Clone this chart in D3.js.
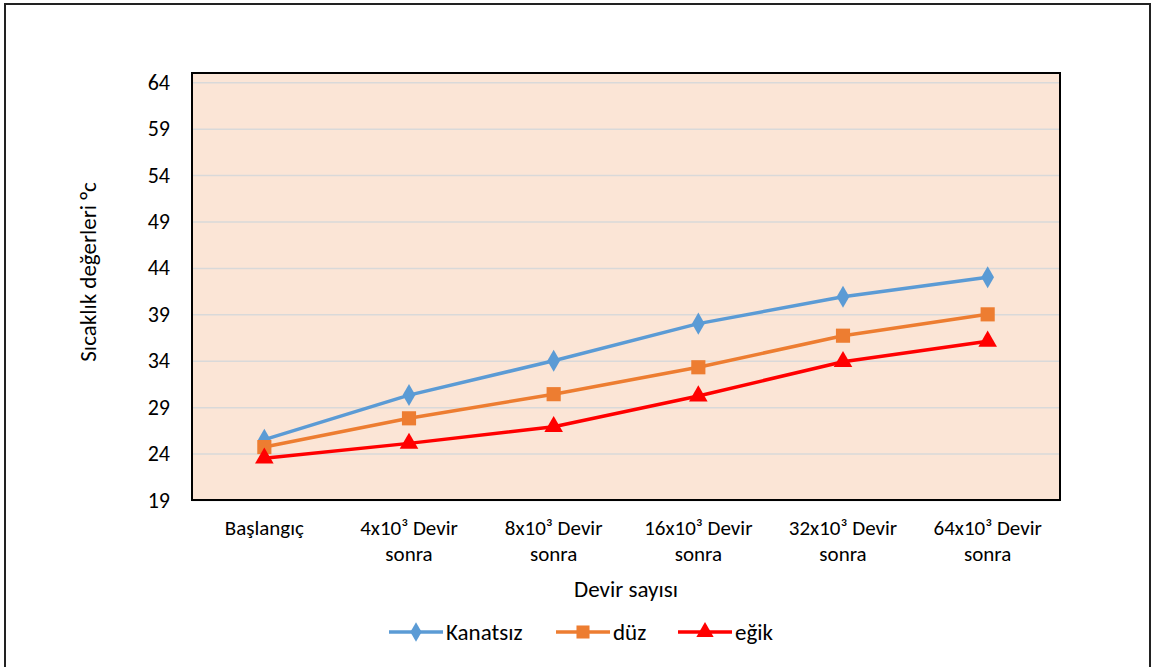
<!DOCTYPE html>
<html>
<head>
<meta charset="utf-8">
<script src="https://cdn.jsdelivr.net/npm/d3@7"></script>
<style>
  body { margin: 0; background: #fff; }
  text { font-family: Calibri, Carlito, Lato, "Open Sans", sans-serif; fill: #000; }
</style>
</head>
<body>
<div id="container"></div>
<script>
let w = 1154;
let h = 667;

// data
let categories = ["Başlangıç", "4x10³ Devir|sonra", "8x10³ Devir|sonra", "16x10³ Devir|sonra", "32x10³ Devir|sonra", "64x10³ Devir|sonra"];
let kanatsiz = [25.5, 30.3, 34.0, 38.0, 40.9, 43.0];
let duz = [24.7, 27.8, 30.4, 33.3, 36.7, 39.0];
let egik = [23.5, 25.1, 26.9, 30.2, 33.9, 36.1];
let yTicks = [19, 24, 29, 34, 39, 44, 49, 54, 59, 64];

let series = [
  {name: "Kanatsız", values: kanatsiz, color: "#5b9bd5", shape: d3.symbolDiamond, size: 140},
  {name: "düz", values: duz, color: "#ed7d31", shape: d3.symbolSquare, size: 200},
  {name: "eğik", values: egik, color: "#ff0000", shape: d3.symbolTriangle, size: 150}
];

let viz = d3.select("#container")
    .append("svg")
      .attr("width", w)
      .attr("height", h);

// outer chart frame
viz.append("rect")
  .attr("x", 5).attr("y", 4)
  .attr("width", 1145).attr("height", 680)
  .attr("fill", "white")
  .attr("stroke", "#222")
  .attr("stroke-width", 2);

let plotLeft = 192, plotRight = 1060, plotTop = 73, plotBottom = 500;

let xScale = d3.scaleBand().domain(categories).range([plotLeft, plotRight]);
let yScale = d3.scaleLinear().domain([19, 65]).range([plotBottom, plotTop]);

viz.append("rect")
  .attr("x", plotLeft).attr("y", plotTop)
  .attr("width", plotRight - plotLeft).attr("height", plotBottom - plotTop)
  .attr("fill", "#fbe5d6");

// gridlines
let yGrid = d3.axisLeft(yScale).tickValues(yTicks).tickSize(-(plotRight - plotLeft)).tickFormat("");
let gridGroup = viz.append("g").attr("transform", "translate(" + plotLeft + ",0)").call(yGrid);
gridGroup.select(".domain").remove();
gridGroup.selectAll("line").attr("stroke", "#d9d9d9").attr("stroke-width", 1.5);

// plot border
viz.append("rect")
  .attr("x", plotLeft).attr("y", plotTop)
  .attr("width", plotRight - plotLeft).attr("height", plotBottom - plotTop)
  .attr("fill", "none")
  .attr("stroke", "#000")
  .attr("stroke-width", 2);

// y axis labels
let yAxis = d3.axisLeft(yScale).tickValues(yTicks).tickSize(0).tickPadding(22);
let yAxisGroup = viz.append("g").attr("transform", "translate(" + plotLeft + ",0)").call(yAxis);
yAxisGroup.select(".domain").remove();
yAxisGroup.selectAll("text").style("font-size", "22px").attr("fill", "#000");

// x axis labels (two lines)
let xAxis = d3.axisBottom(xScale).tickSize(0).tickFormat("");
let xAxisGroup = viz.append("g").attr("transform", "translate(0," + plotBottom + ")").call(xAxis);
xAxisGroup.select(".domain").remove();
xAxisGroup.selectAll(".tick").each(function(d){
  let lines = d.split("|");
  let t = d3.select(this).append("text")
    .attr("text-anchor", "middle")
    .style("font-size", "21px");
  lines.forEach(function(l, i){
    t.append("tspan").attr("x", 0).attr("y", 35 + i * 26).text(l);
  });
});

// lines and markers
let line = d3.line()
  .x(function(d, i){ return xScale(categories[i]) + xScale.bandwidth() / 2; })
  .y(function(d){ return yScale(d); });

series.forEach(function(s){
  viz.append("path")
    .datum(s.values)
    .attr("d", line)
    .attr("fill", "none")
    .attr("stroke", s.color)
    .attr("stroke-width", 3.5)
    .attr("stroke-linejoin", "round");
  viz.selectAll(null)
    .data(s.values)
    .enter()
    .append("path")
      .attr("d", d3.symbol().type(s.shape).size(s.size))
      .attr("transform", function(d, i){
        return "translate(" + (xScale(categories[i]) + xScale.bandwidth() / 2) + "," + yScale(d) + ")";
      })
      .attr("fill", s.color);
});

// axis titles
viz.append("text")
  .attr("x", 626).attr("y", 597)
  .attr("text-anchor", "middle")
  .style("font-size", "23px")
  .text("Devir sayısı");

viz.append("text")
  .attr("transform", "translate(96,272) rotate(-90)")
  .attr("text-anchor", "middle")
  .style("font-size", "23px")
  .text("Sıcaklık değerleri °c");

// legend
let legendX = [389, 556, 678];
let legendSize = [110, 170, 130];
series.forEach(function(s, i){
  let g = viz.append("g").attr("transform", "translate(" + legendX[i] + ",632)");
  g.append("line").attr("x1", 0).attr("x2", 54).attr("y1", 0).attr("y2", 0)
    .attr("stroke", s.color).attr("stroke-width", 3.5);
  g.append("path").attr("d", d3.symbol().type(s.shape).size(legendSize[i]))
    .attr("transform", "translate(27,0)").attr("fill", s.color);
  g.append("text").attr("x", 57).attr("y", 8).style("font-size", "23px").text(s.name);
});
</script>
</body>
</html>
